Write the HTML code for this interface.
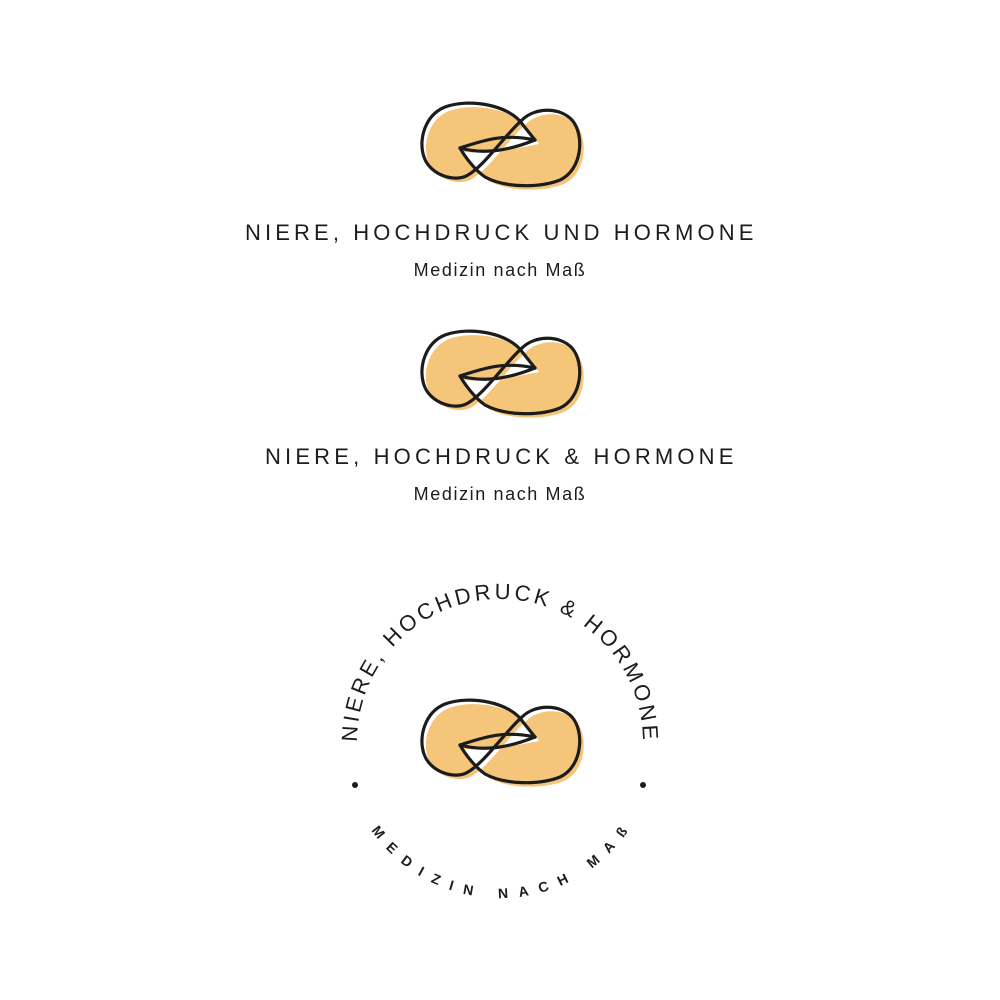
<!DOCTYPE html>
<html><head><meta charset="utf-8"><style>
html,body{margin:0;padding:0;background:#fff;}
body{width:1000px;height:1000px;overflow:hidden;}
svg{display:block;}
</style></head><body>
<svg width="1000" height="1000" viewBox="0 0 1000 1000" xmlns="http://www.w3.org/2000/svg">
<defs>
<g id="logo">
  <path transform="translate(4,4)" d="M113,30 C100,10 60,3 35,12 C15,20 8,45 14,62 C20,80 45,88 58,80 C75,70 95,40 112,25 C125,12 150,12 162,25 C175,40 172,75 150,85 C130,93 95,93 75,82 C65,75 55,62 50,53 C75,55 100,50 125,45 Z" fill="#F5C57A"/>
  <path d="M60,40 C80,50 100,60 120,45 L140,60 L90,80 Z" fill="#F5C57A" opacity="0"/>
  <g fill="none" stroke="#1c1c1c" stroke-width="3.2" stroke-linejoin="round" stroke-linecap="round">
    <path d="M125,45 L113,30 C100,10 60,3 35,12 C15,20 8,45 14,62 C20,80 45,88 58,80 C75,70 95,40 112,25 C125,12 150,12 162,25 C175,40 172,75 150,85 C130,93 95,93 75,82 C65,75 55,62 50,53"/>
    <path d="M50,53 C72,46 92,38 125,45"/>
    <path d="M50,53 C75,60 100,55 125,45"/>
  </g>
</g>
</defs>
<use href="#logo" x="410" y="95"/>
<use href="#logo" x="410" y="323"/>
<use href="#logo" x="410" y="692"/>
<g font-family="'Liberation Sans', sans-serif" fill="#1c1c1c" text-anchor="middle">
  <text x="500" y="240" font-size="22" letter-spacing="1.6" textLength="510" lengthAdjust="spacing">NIERE, HOCHDRUCK UND HORMONE</text>
  <text x="500" y="276" font-size="18" letter-spacing="1.6">Medizin nach Maß</text>
  <text x="500" y="464" font-size="22" letter-spacing="1.6" textLength="470" lengthAdjust="spacing">NIERE, HOCHDRUCK &amp; HORMONE</text>
  <text x="500" y="500" font-size="18" letter-spacing="1.6">Medizin nach Maß</text>
</g>
<path id="topArc" d="M357,742 A143,143 0 0 1 643,742" fill="none"/>
<path id="botArc" d="M344,742 A156,156 0 0 0 656,742" fill="none"/>
<g font-family="'Liberation Sans', sans-serif" fill="#1c1c1c">
  <text font-size="22" letter-spacing="2"><textPath href="#topArc" textLength="449" lengthAdjust="spacing">NIERE, HOCHDRUCK &amp; HORMONE</textPath></text>
  <text font-size="14" font-weight="bold" letter-spacing="11" text-anchor="middle"><textPath href="#botArc" startOffset="51%">MEDIZIN NACH MAß</textPath></text>
</g>
<circle cx="355" cy="785" r="3" fill="#1c1c1c"/>
<circle cx="643" cy="785" r="3" fill="#1c1c1c"/>
</svg>
</body></html>
